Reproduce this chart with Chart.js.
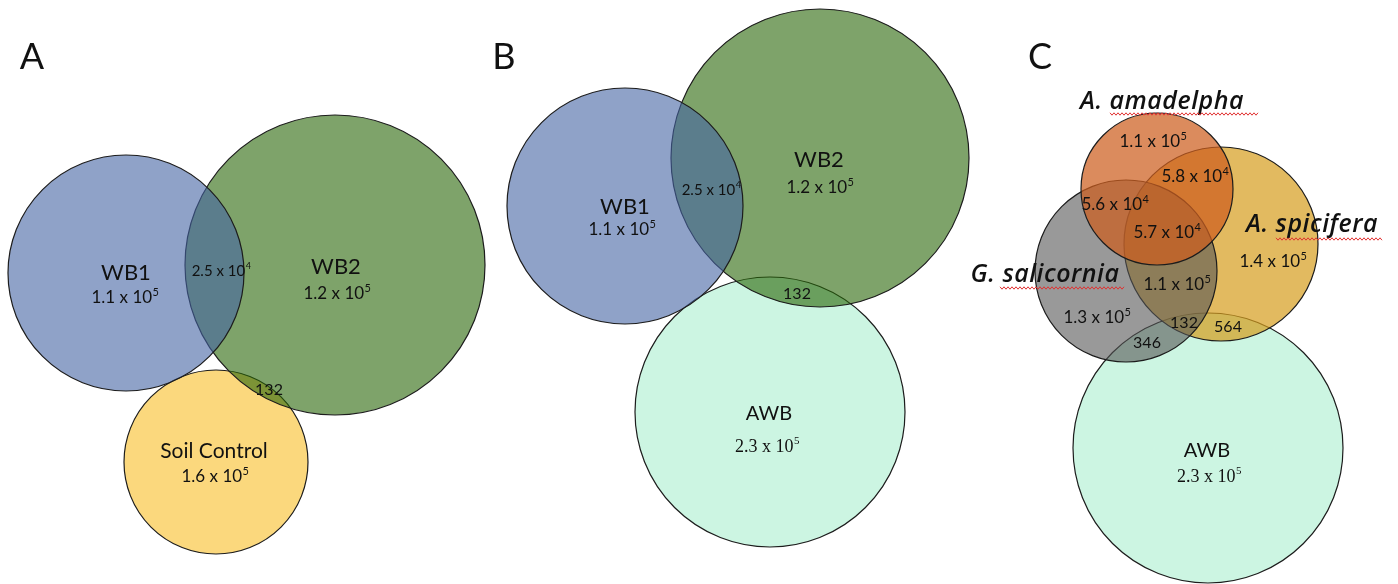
<!DOCTYPE html>
<html>
<head>
<meta charset="utf-8">
<script src="https://cdn.jsdelivr.net/npm/chart.js@4"></script>
<style>
  html, body { margin: 0; padding: 0; background: #fff; }
  #venn { display: block; }
</style>
</head>
<body>
<canvas id="venn" width="1398" height="584"></canvas>
<script>
// circles, listed bottom to top (drawing order)
const circleNames = ['Soil Control', 'WB2', 'WB1', 'AWB', 'WB2', 'WB1', 'AWB', 'A. spicifera', 'G. salicornia', 'A. amadelpha'];
const circleX = [216, 335, 126, 770, 820, 625, 1208, 1221, 1126, 1157];
const circleY = [462, 265, 273, 412, 158, 206, 448, 244, 271, 189];
const circleR = [92, 150, 118, 135, 149, 118, 135, 97, 91, 76];

// region counts: mantissa and power of ten (null = plain number)
const countMant = ['1.1', '2.5', '1.2', '132', '1.6',
                   '1.1', '2.5', '1.2', '132', '2.3',
                   '1.1', '5.8', '5.6', '5.7', '1.4', '1.1', '1.3', '132', '564', '346', '2.3'];
const countExp = [5, 4, 5, null, 5,
                  5, 4, 5, null, 5,
                  5, 4, 4, 4, 5, 5, 5, null, null, null, 5];

const panelLetters = ['A', 'B', 'C'];

// where each label sits
const countPos = [[125, 298], [221, 271], [337, 294], [269, 390], [215, 477],
                  [622, 230], [711, 190], [820, 188], [797, 294], [767, 447],
                  [1153, 142], [1195, 177], [1115, 205], [1167, 233], [1273, 262],
                  [1177, 285], [1097, 318], [1184, 323], [1228, 327], [1147, 343], [1209, 477]];
const countSize = [17, 15, 17, 16, 17, 17, 15, 17, 16, 18, 17, 17, 17, 17, 17, 17, 17, 16, 16, 16, 18];
const countSerif = [0, 0, 0, 0, 0, 0, 0, 0, 0, 1, 0, 0, 0, 0, 0, 0, 0, 0, 0, 0, 1];

const namePos = [[126, 273], [336, 267], [214, 451], [625, 207], [819, 160], [769, 414],
                 [1162, 102], [1312, 225], [1045, 275], [1207, 451]];
const nameText = ['WB1', 'WB2', 'Soil Control', 'WB1', 'WB2', 'AWB',
                  'A. amadelpha', 'A. spicifera', 'G. salicornia', 'AWB'];
const nameItalic = [0, 0, 0, 0, 0, 0, 1, 1, 1, 0];
const nameSize = [22, 22, 21, 22, 22, 20, 25, 25, 25, 20];
const letterPos = [[32, 57], [504, 57], [1040, 57]];
// spell-check squiggles under the species names
const squiggles = [[1110, 1258, 114], [1276, 1383, 239], [1000, 1125, 288]];

const circleColors = [
  'rgba(249,190,38,0.6)', 'rgba(40,102,7,0.6)', 'rgba(68,100,163,0.6)',
  'rgba(170,238,207,0.6)', 'rgba(40,102,7,0.6)', 'rgba(68,100,163,0.6)',
  'rgba(170,238,207,0.6)', 'rgba(214,156,28,0.7)', 'rgba(85,85,85,0.6)', 'rgba(205,94,30,0.72)'
];

const SANS = 'Lato, "Open Sans", sans-serif';
const WIDE = '"Open Sans", Lato, sans-serif';
const SERIF = '"Liberation Serif", "DejaVu Serif", serif';

function drawPow(ctx, mant, exp, x, y, size, fam) {
  ctx.font = size + 'px ' + fam;
  const base = exp === null ? mant : mant + ' x 10';
  const w1 = ctx.measureText(base).width;
  let w2 = 0;
  const small = Math.round(size * 0.62);
  if (exp !== null) {
    ctx.font = small + 'px ' + fam;
    w2 = ctx.measureText(String(exp)).width;
  }
  const left = x - (w1 + w2) / 2;
  ctx.textAlign = 'left';
  ctx.textBaseline = 'middle';
  ctx.font = size + 'px ' + fam;
  ctx.fillText(base, left, y);
  if (exp !== null) {
    ctx.font = small + 'px ' + fam;
    ctx.fillText(String(exp), left + w1 + 0.5, y - size * 0.33);
  }
}

const labelPlugin = {
  id: 'vennLabels',
  afterDatasetsDraw(chart) {
    const ctx = chart.ctx;
    const xs = chart.scales.x, ys = chart.scales.y;
    ctx.save();
    ctx.fillStyle = '#111';

    panelLetters.forEach((t, i) => {
      ctx.font = '36px ' + SANS;
      ctx.textAlign = 'center';
      ctx.textBaseline = 'middle';
      ctx.fillText(t, xs.getPixelForValue(letterPos[i][0]), ys.getPixelForValue(letterPos[i][1]));
    });

    nameText.forEach((t, i) => {
      ctx.textAlign = 'center';
      ctx.textBaseline = 'middle';
      if (nameItalic[i]) {
        ctx.font = 'italic 600 ' + nameSize[i] + 'px ' + WIDE;
        ctx.letterSpacing = '0.5px';
      } else {
        ctx.font = nameSize[i] + 'px ' + SANS;
        ctx.letterSpacing = '0px';
      }
      ctx.fillText(t, xs.getPixelForValue(namePos[i][0]), ys.getPixelForValue(namePos[i][1]));
    });
    ctx.letterSpacing = '0px';

    countMant.forEach((m, i) => {
      drawPow(ctx, m, countExp[i], xs.getPixelForValue(countPos[i][0]),
        ys.getPixelForValue(countPos[i][1]), countSize[i], countSerif[i] ? SERIF : SANS);
    });

    ctx.strokeStyle = '#e03030';
    ctx.lineWidth = 1;
    squiggles.forEach(s => {
      const x0 = xs.getPixelForValue(s[0]), x1 = xs.getPixelForValue(s[1]);
      const y = ys.getPixelForValue(s[2]);
      ctx.beginPath();
      for (let x = x0, k = 0; x <= x1; x += 2, k++) {
        const yy = y + (k % 2 ? 1.2 : -1.2);
        if (k === 0) ctx.moveTo(x, yy); else ctx.lineTo(x, yy);
      }
      ctx.stroke();
    });
    ctx.restore();
  }
};

const datasets = circleNames.map((name, i) => ({
  label: name,
  data: [{ x: circleX[i], y: circleY[i], r: circleR[i] }],
  backgroundColor: circleColors[i],
  borderColor: '#1c1c1c',
  borderWidth: 1.2,
  hoverRadius: 0,
  order: circleNames.length - i
}));

new Chart(document.getElementById('venn'), {
  type: 'bubble',
  data: { datasets: datasets },
  options: {
    responsive: false,
    animation: false,
    layout: { padding: 0, autoPadding: false },
    clip: false,
    scales: {
      x: { type: 'linear', min: 0, max: 1398, display: false },
      y: { type: 'linear', min: 0, max: 584, reverse: true, display: false }
    },
    plugins: { legend: { display: false }, tooltip: { enabled: false } },
    events: []
  },
  plugins: [labelPlugin]
});
</script>
</body>
</html>
